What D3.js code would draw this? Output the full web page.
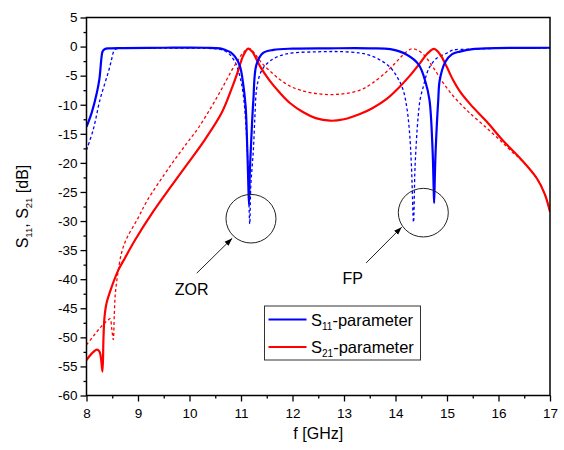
<!DOCTYPE html>
<html>
<head>
<meta charset="utf-8">
<script src="https://cdn.jsdelivr.net/npm/d3@7"></script>
<style>
body { margin: 0; background: #fff; }
text { font-family: Arial, "Liberation Sans", sans-serif; }
</style>
</head>
<body>
<svg id="chart" width="564" height="450"></svg>
<script>
// tick labels
var xTicks = [8, 9, 10, 11, 12, 13, 14, 15, 16, 17];
var yTicks = [5, 0, -5, -10, -15, -20, -25, -30, -35, -40, -45, -50, -55, -60];

// S11 solid (blue)
var s11F = [8.00, 8.10, 8.20, 8.25, 8.29, 8.31, 8.35, 8.45, 8.7, 9.5, 10.3, 10.59, 10.69, 10.8, 10.88, 10.98, 11.04, 11.09, 11.12, 11.14, 11.155,
  11.17, 11.19, 11.24, 11.30, 11.43, 11.63, 12.0, 12.7, 13.5, 13.9, 14.22, 14.45, 14.58, 14.66, 14.72, 14.74, 14.75,
  14.765, 14.78, 14.83, 14.86, 14.97, 15.1, 15.25, 15.5, 15.77, 16.5, 17.0];
var s11dB = [-13.8, -11.4, -8.0, -5.6, -2.0, -0.9, -0.45, -0.3, -0.25, -0.2, -0.2, -0.3, -0.57, -1.0, -1.7, -3.4, -6.3, -10.3, -17, -23, -27.2,
  -22, -17.8, -9.2, -3.1, -1.1, -0.57, -0.35, -0.3, -0.3, -0.45, -1.4, -3.1, -6.0, -9.2, -17.8, -24, -26.9,
  -22, -17.8, -9.2, -5.7, -2.6, -1.3, -0.86, -0.45, -0.3, -0.22, -0.2];

// S11 dashed (blue)
var s11sF = [8.00, 8.13, 8.26, 8.35, 8.42, 8.48, 8.52, 8.56, 8.7, 9.5, 10.3, 10.6, 10.75, 10.88, 10.98, 11.04, 11.10, 11.14, 11.17,
  11.19, 11.24, 11.27, 11.30, 11.36, 11.43, 11.56, 11.75, 12.0, 12.5, 12.9, 13.3, 13.5, 13.7, 13.9, 14.05, 14.15, 14.22, 14.27, 14.31, 14.35,
  14.38, 14.44, 14.48, 14.54, 14.61, 14.67, 14.8, 15.0, 15.12, 15.45, 16.0, 17.0];
var s11sdB = [-17.8, -14.3, -9.2, -6.5, -4.5, -2.5, -1.0, -0.45, -0.3, -0.25, -0.3, -0.5, -1.1, -2.6, -5.2, -8, -14, -22, -30.5,
  -24, -17.8, -12, -7.5, -5.0, -3.7, -2.5, -1.6, -1.1, -0.9, -0.86, -1.1, -1.5, -2.3, -3.6, -5.5, -7.5, -10.5, -14.5, -20.6, -30.2,
  -20.6, -12, -9, -6.9, -4.6, -3.4, -2.0, -1.1, -0.6, -0.45, -0.3, -0.25];

// S21 solid (red)
var s21F = [8.00, 8.10, 8.20, 8.25, 8.28, 8.31, 8.33, 8.35, 8.39, 8.49, 8.62, 8.75, 8.94, 9.30, 9.62, 9.95, 10.3, 10.63, 10.82, 10.95, 11.04,
  11.14, 11.22, 11.37, 11.56, 11.75, 11.95, 12.21, 12.45, 12.73, 13.0, 13.31, 13.55, 13.83, 14.05, 14.28, 14.48, 14.62, 14.75,
  14.87, 14.99, 15.12, 15.25, 15.45, 15.77, 16.09, 16.42, 16.74, 16.9, 17.0];
var s21dB = [-53.9, -52.8, -52.1, -52.4, -53.5, -55.9, -50, -46.5, -44.1, -41.3, -38.4, -36.3, -33.3, -28.3, -24.3, -20.3, -16.0, -11.3, -7.2, -4.0, -1.6,
  -0.35, -0.9, -3.4, -5.9, -7.9, -9.7, -11.3, -12.3, -12.75, -12.5, -11.6, -10.6, -9.0, -7.2, -5.0, -2.8, -1.2, -0.4,
  -1.4, -3.4, -5.8, -7.7, -9.9, -12.9, -16.2, -19.2, -22.6, -25.4, -28.4];

// S21 dashed (red)
var s21sF = [8.00, 8.15, 8.3, 8.42, 8.46, 8.49, 8.52, 8.54, 8.56, 8.60, 8.68, 8.78, 9.0, 9.17, 9.62, 9.95, 10.17, 10.43, 10.63, 10.82, 10.95,
  11.05, 11.16, 11.28, 11.40, 11.56, 11.76, 11.95, 12.15, 12.4, 12.7, 13.0, 13.31, 13.55, 13.83, 14.0, 14.15, 14.31, 14.42, 14.55,
  14.67, 14.8, 14.93, 15.12, 15.3, 15.45, 15.77, 16.09, 16.3, 16.42, 16.74, 16.9, 17.0];
var s21sdB = [-51.3, -49.6, -48.0, -47.0, -46.8, -48.5, -50.4, -46, -42.5, -39.5, -35.5, -33, -29.5, -26.6, -20.6, -16.6, -14.0, -10.3, -7.2, -4.1, -2.2,
  -1.0, -0.35, -1.4, -2.8, -4.2, -5.7, -6.8, -7.5, -8.0, -8.25, -8.1, -7.5, -6.3, -4.3, -2.8, -1.4, -0.4, -0.6, -1.4,
  -2.8, -4.5, -6.3, -8.5, -10.2, -11.5, -14.0, -16.6, -18.4, -19.3, -22.6, -25.4, -28.4];

// set the dimensions and margins of the graph
var margin = {top: 17.5, right: 14, bottom: 54.5, left: 86.5},
width = 564 - margin.left - margin.right,
height = 450 - margin.top - margin.bottom;

var svg = d3.select("#chart")
.append("g")
.attr("transform", "translate(" + margin.left + "," + margin.top + ")");

var x = d3.scaleLinear().domain([8, 17]).range([0, width]);
var y = d3.scaleLinear().domain([-60, 5]).range([height, 0]);

// minor ticks
svg.append("g")
.attr("transform", "translate(0," + height + ")")
.call(d3.axisBottom(x).tickValues(xTicks.slice(0, -1).map(function(d) { return d + 0.5; })).tickSize(3).tickFormat(""));
svg.append("g")
.call(d3.axisLeft(y).tickValues(yTicks.slice(0, -1).map(function(d) { return d - 2.5; })).tickSize(3).tickFormat(""));

// major ticks
svg.append("g")
.attr("class", "xaxis")
.attr("transform", "translate(0," + height + ")")
.call(d3.axisBottom(x).tickValues(xTicks).tickSize(6).tickPadding(7).tickFormat(d3.format("d")));
svg.append("g")
.attr("class", "yaxis")
.call(d3.axisLeft(y).tickValues(yTicks).tickSize(6).tickPadding(3).tickFormat(function(d) { return String(d); }));

svg.selectAll(".domain").remove();
svg.selectAll(".tick line").attr("stroke", "#000").attr("stroke-width", 1.3);
svg.selectAll(".tick text").attr("fill", "#000").style("font-size", "13.5px");

// clip for the curves
svg.append("clipPath").attr("id", "clip")
.append("rect").attr("width", width).attr("height", height);

var line = d3.line()
.x(function(d) { return x(d[0]); })
.y(function(d) { return y(d[1]); })
.curve(d3.curveCatmullRom.alpha(0.5));

function pairs(f, v) { return f.map(function(d, i) { return [d, v[i]]; }); }

var curves = svg.append("g").attr("clip-path", "url(#clip)");

curves.append("path").datum(pairs(s11sF, s11sdB))
.attr("fill", "none").attr("stroke", "#0000ff").attr("stroke-width", 1.3)
.attr("stroke-dasharray", "3,2.5").attr("d", line);
curves.append("path").datum(pairs(s21sF, s21sdB))
.attr("fill", "none").attr("stroke", "#ff0000").attr("stroke-width", 1.3)
.attr("stroke-dasharray", "3,2.5").attr("d", line);
curves.append("path").datum(pairs(s21F, s21dB))
.attr("fill", "none").attr("stroke", "#ff0000").attr("stroke-width", 2.2).attr("d", line);
curves.append("path").datum(pairs(s11F, s11dB))
.attr("fill", "none").attr("stroke", "#0000ff").attr("stroke-width", 2.2).attr("d", line);

// frame
svg.append("rect")
.attr("width", width).attr("height", height)
.attr("fill", "none").attr("stroke", "#000").attr("stroke-width", 1.5);

// annotations: circles and arrows
var marks = [
  {label: "ZOR", cf: 11.194, cdb: -29.6, af: 10.14, adb: -38.97, tf: 10.83, tdb: -32.96, lf: 10.04, ldb: -42.7},
  {label: "FP", cf: 14.54, cdb: -28.56, af: 13.43, adb: -37.2, tf: 14.12, tdb: -31.05, lf: 13.17, ldb: -40.8}
];

svg.append("defs").append("marker")
.attr("id", "arrow").attr("viewBox", "0 0 10 10")
.attr("refX", 10).attr("refY", 5)
.attr("markerWidth", 8).attr("markerHeight", 8)
.attr("markerUnits", "userSpaceOnUse")
.attr("orient", "auto")
.append("path").attr("d", "M0,1.5L10,5L0,8.5Z").attr("fill", "#000");

marks.forEach(function(m) {
  svg.append("ellipse")
  .attr("cx", x(m.cf)).attr("cy", y(m.cdb))
  .attr("rx", 25).attr("ry", 24.3)
  .attr("fill", "none").attr("stroke", "#222").attr("stroke-width", 1);
  svg.append("line")
  .attr("x1", x(m.af)).attr("y1", y(m.adb))
  .attr("x2", x(m.tf)).attr("y2", y(m.tdb))
  .attr("stroke", "#222").attr("stroke-width", 1)
  .attr("marker-end", "url(#arrow)");
  svg.append("text")
  .attr("x", x(m.lf)).attr("y", y(m.ldb))
  .attr("text-anchor", "middle")
  .style("font-size", "16px")
  .text(m.label);
});

// legend
var legend = svg.append("g").attr("transform", "translate(" + (264.5 - margin.left) + "," + (306 - margin.top) + ")");
legend.append("rect")
.attr("width", 156).attr("height", 54)
.attr("fill", "#fff").attr("stroke", "#333").attr("stroke-width", 1);

var legendItems = [
  {sub: "11", color: "#0000ff"},
  {sub: "21", color: "#ff0000"}
];
legendItems.forEach(function(d, i) {
  var yy = 13.5 + i * 27.5;
  legend.append("line")
  .attr("x1", 4).attr("x2", 42).attr("y1", yy).attr("y2", yy)
  .attr("stroke", d.color).attr("stroke-width", 1.8);
  var t = legend.append("text")
  .attr("x", 46.5).attr("y", yy + 6)
  .style("font-size", "16.5px");
  t.append("tspan").text("S");
  t.append("tspan").attr("dy", 4).style("font-size", "10px").text(d.sub);
  t.append("tspan").attr("dy", -4).text("-parameter");
});

// axis titles
var xl = svg.append("text")
.attr("x", width / 2).attr("y", height + 43)
.attr("text-anchor", "middle")
.style("font-size", "16px")
.text("f [GHz]");

var yl = svg.append("text")
.attr("transform", "translate(" + (28 - margin.left) + "," + (height / 2) + ") rotate(-90)")
.attr("text-anchor", "middle")
.style("font-size", "16px");
yl.append("tspan").text("S");
yl.append("tspan").attr("dy", 4).style("font-size", "9.5px").text("11");
yl.append("tspan").attr("dy", -4).text(", S");
yl.append("tspan").attr("dy", 4).style("font-size", "9.5px").text("21");
yl.append("tspan").attr("dy", -4).text(" [dB]");
</script>
</body>
</html>
